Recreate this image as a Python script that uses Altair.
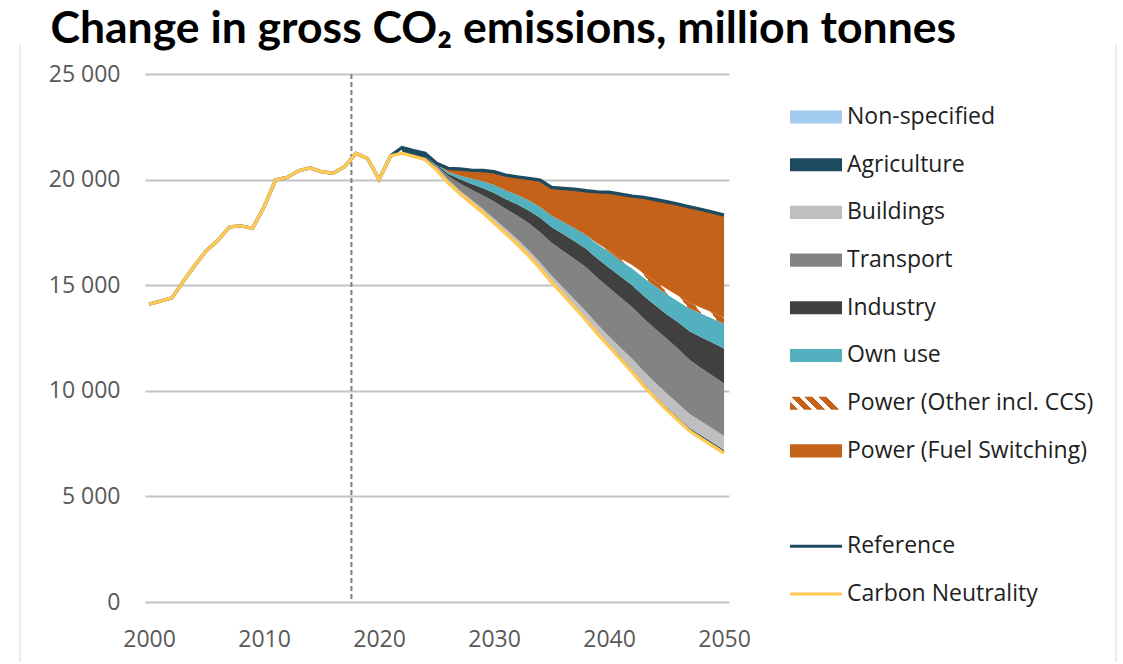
import altair as alt
import pandas as pd

# ---------------------------------------------------------------- data
years = list(range(2000, 2051))
carbon_neutrality = [
    14100, 14250, 14400, 15200, 15950, 16650, 17130, 17760, 17810, 17690,
    18700, 19980, 20100, 20420, 20560, 20370, 20300, 20610, 21240, 21000,
    20010, 21120, 21250, 21100, 20950, 20450, 19850, 19350, 18900, 18450,
    17950, 17450, 16950, 16400, 15800, 15150, 14550, 13950, 13350, 12700,
    12100, 11500, 10900, 10250, 9650, 9100, 8600, 8100, 7750, 7400, 7050,
]

# sector contributions between the two pathways, 2022-2050 (bottom to top)
proj_years = list(range(2022, 2051))
non_specified = [0, 0, 0, 0, 0, 0, 0, 0, 0, 0, 0, 0, 0, 0, 0, 0, 0, 0, 0, 0,
                 0, 0, 0, 0, 0, 0, 0, 0, 0]
agriculture = [270, 270, 230, 120, 80, 70, 60, 60, 60, 60, 65, 70, 75, 80, 85,
               90, 100, 110, 120, 120, 125, 125, 130, 130, 135, 140, 145, 150, 150]
buildings = [0, 0, 20, 40, 60, 80, 100, 120, 150, 170, 190, 200, 215, 230, 260,
             280, 300, 330, 360, 420, 490, 560, 610, 650, 660, 660, 660, 660, 660]
transport = [0, 0, 20, 60, 180, 330, 470, 630, 800, 940, 1100, 1270, 1420, 1550,
             1730, 1920, 2100, 2200, 2300, 2380, 2450, 2500, 2550, 2600, 2600,
             2570, 2530, 2500, 2480]
industry = [0, 0, 20, 50, 110, 200, 270, 340, 400, 460, 530, 600, 680, 750, 800,
            840, 870, 910, 950, 990, 1030, 1070, 1110, 1150, 1250, 1350, 1450,
            1560, 1660]
own_use = [0, 0, 0, 30, 90, 170, 250, 320, 390, 420, 450, 480, 510, 530, 580,
           620, 660, 700, 750, 750, 810, 860, 910, 950, 990, 1080, 1120, 1150,
           1180]
power_other_ccs = [0, 0, 0, 0, 0, 0, 0, 0, 0, 0, 0, 0, 0, 0, 0, 0, 0, 30, 60,
                   100, 150, 200, 230, 250, 260, 270, 280, 290, 300]
power_fuel_switching = [0, 0, 0, 20, 160, 300, 400, 510, 620, 710, 845, 1040,
                        1280, 1340, 1575, 1840, 2090, 2440, 2760, 3050, 3265,
                        3595, 3870, 4120, 4345, 4540, 4655, 4750, 4840]

base_year_marker = [2017.6]
x_ticks = [2000, 2010, 2020, 2030, 2040, 2050]
y_ticks = [0, 5000, 10000, 15000, 20000, 25000]

sector_names = ["Non-specified", "Agriculture", "Buildings", "Transport",
                "Industry", "Own use", "Power (Other incl. CCS)",
                "Power (Fuel Switching)"]
sector_values = [non_specified, agriculture, buildings, transport, industry,
                 own_use, power_other_ccs, power_fuel_switching]
sector_colors = ["#A3CBEE", "#1E4A5F", "#BFBFBF", "#838383", "#404040",
                 "#52B0BF", "#C4621A", "#C4621A"]

REF_COLOR = "#1E4A5F"
CN_COLOR = "#FFC955"
ORANGE = "#C4621A"
HATCHED = "Power (Other incl. CCS)"

# ---------------------------------------------------------------- frames
cn_by_year = dict(zip(years, carbon_neutrality))

# stacked bands starting from the Carbon Neutrality pathway
band_rows = []
for i, yr in enumerate(proj_years):
    level = cn_by_year[yr]
    for name, vals in zip(sector_names, sector_values):
        band_rows.append({"year": yr, "sector": name, "lo": level,
                          "hi": level + vals[i]})
        level += vals[i]
bands = pd.DataFrame(band_rows)

reference_top = bands.groupby("year")["hi"].max().to_dict()
lines = pd.DataFrame({
    "year": years,
    "cn": carbon_neutrality,
    "ref": [reference_top.get(y, cn_by_year[y]) for y in years],
})

W, H = 584, 528
FONT = "Open Sans"

x_scale = alt.Scale(domain=[1999.65, 2050.43], nice=False, zero=False)
y_scale = alt.Scale(domain=[0, 25000], nice=False)

x_axis = alt.Axis(values=x_ticks, format="d", grid=False, domain=False,
                  ticks=False, labelFont=FONT, labelFontSize=23,
                  labelColor="#595959", labelPadding=26, title=None)
y_axis = alt.Axis(values=y_ticks, grid=True, gridColor="#C3C3C3", gridWidth=2,
                  domain=False, ticks=False, labelFont=FONT, labelFontSize=23,
                  labelColor="#595959", labelPadding=25, title=None,
                  labelExpr="replace(format(datum.value, ','), ',', ' ')")


def stripes(cycles, white_share, x1, y1, x2, y2):
    """Diagonal orange/white hatch built from hard-edged gradient stops."""
    stops = []
    for k in range(cycles):
        a = k / cycles
        b = (k + 1) / cycles
        m = a + (1 - white_share) / cycles
        stops += [
            alt.GradientStop(color=ORANGE, offset=a),
            alt.GradientStop(color=ORANGE, offset=m),
            alt.GradientStop(color="#FFFFFF", offset=m),
            alt.GradientStop(color="#FFFFFF", offset=b),
        ]
    return alt.Gradient(gradient="linear", stops=stops, x1=x1, y1=y1, x2=x2, y2=y2)


one_row = pd.DataFrame({"k": [0]})

frame_left = alt.Chart(one_row).mark_rule(color="#D6D6D6", strokeWidth=1).encode(
    x=alt.value(-125), y=alt.value(-29), y2=alt.value(H + 60))

grid_layer = alt.Chart(lines).mark_line(opacity=0).encode(
    x=alt.X("year:Q", scale=x_scale, axis=x_axis),
    y=alt.Y("cn:Q", scale=y_scale, axis=y_axis),
)

band_layers = []
for name, col in zip(sector_names, sector_colors):
    sub = bands[bands["sector"] == name]
    if name == HATCHED:
        sub = sub[sub["year"] >= 2038]
        mark = alt.Chart(sub).mark_area(
            color=stripes(9, 0.55, 0, 1, 1, 0.506), interpolate="linear")
    else:
        mark = alt.Chart(sub).mark_area(color=col, interpolate="linear")
    band_layers.append(mark.encode(
        x=alt.X("year:Q", scale=x_scale),
        y=alt.Y("lo:Q", scale=y_scale),
        y2="hi:Q",
    ))

marker = alt.Chart(pd.DataFrame({"year": base_year_marker})).mark_rule(
    color="#7F7F7F", strokeWidth=2, strokeDash=[5, 3]).encode(
    x=alt.X("year:Q", scale=x_scale),
    y=alt.datum(25000, scale=y_scale),
    y2=alt.datum(0),
)

ref_line = alt.Chart(lines).mark_line(color=REF_COLOR, strokeWidth=3.4).encode(
    x=alt.X("year:Q", scale=x_scale), y=alt.Y("ref:Q", scale=y_scale))
cn_line = alt.Chart(lines).mark_line(color=CN_COLOR, strokeWidth=3.4).encode(
    x=alt.X("year:Q", scale=x_scale), y=alt.Y("cn:Q", scale=y_scale))

main = alt.layer(frame_left, grid_layer, *band_layers, marker, ref_line,
                 cn_line).properties(width=W, height=H)

# ---------------------------------------------------------------- legend panel
legend_labels = sector_names + ["Reference", "Carbon Neutrality"]
legend_slots = [0, 1, 2, 3, 4, 5, 6, 7, 9, 10]
legend = pd.DataFrame({"label": legend_labels, "slot": legend_slots})
legend["top"] = legend["slot"] - 0.137
legend["bot"] = legend["slot"] + 0.137
legend["fill"] = sector_colors + [REF_COLOR, CN_COLOR]

ly = alt.Scale(domain=[-0.9015, 10.168], reverse=True, nice=False, zero=False)

solid = legend[legend["slot"].isin([0, 1, 2, 3, 4, 5, 7])]
hatch = legend[legend["slot"] == 6]
linez = legend[legend["slot"] >= 9]

leg_solid = alt.Chart(solid).mark_rect().encode(
    x=alt.value(0), x2=alt.value(52),
    y=alt.Y("top:Q", scale=ly, axis=None), y2="bot:Q",
    color=alt.Color("fill:N", scale=None),
)
leg_hatch = alt.Chart(hatch).mark_rect(
    color=stripes(4, 0.42, 0, 1, 1, 0.75)).encode(
    x=alt.value(0), x2=alt.value(52),
    y=alt.Y("top:Q", scale=ly, axis=None), y2="bot:Q",
)
leg_lines = alt.Chart(linez).mark_rule(strokeWidth=3).encode(
    x=alt.value(0), x2=alt.value(52),
    y=alt.Y("slot:Q", scale=ly, axis=None),
    color=alt.Color("fill:N", scale=None),
)
leg_text = alt.Chart(legend).mark_text(
    align="left", baseline="middle", font=FONT, fontSize=23,
    color="#1E1E1E").encode(
    x=alt.value(57), y=alt.Y("slot:Q", scale=ly, axis=None), text="label:N")
frame_right = alt.Chart(one_row).mark_rule(color="#D6D6D6", strokeWidth=1).encode(
    x=alt.value(326), y=alt.value(-29), y2=alt.value(H + 60))

legend_panel = alt.layer(leg_solid, leg_hatch, leg_lines, leg_text,
                         frame_right).properties(width=330, height=H)

chart = alt.hconcat(main, legend_panel, spacing=61, bounds="flush").properties(
    title=alt.TitleParams(
        text="Change in gross CO₂ emissions, million tonnes",
        anchor="start", frame="bounds", font="Lato", fontSize=44.5,
        fontWeight="bold", color="#000000", dx=31, offset=-8),
    padding={"left": 19, "top": 7, "right": 0, "bottom": 0},
    background="#FFFFFF",
).configure_view(stroke=None)

chart.save("out.html", embed_options={"renderer": "svg", "actions": False})
